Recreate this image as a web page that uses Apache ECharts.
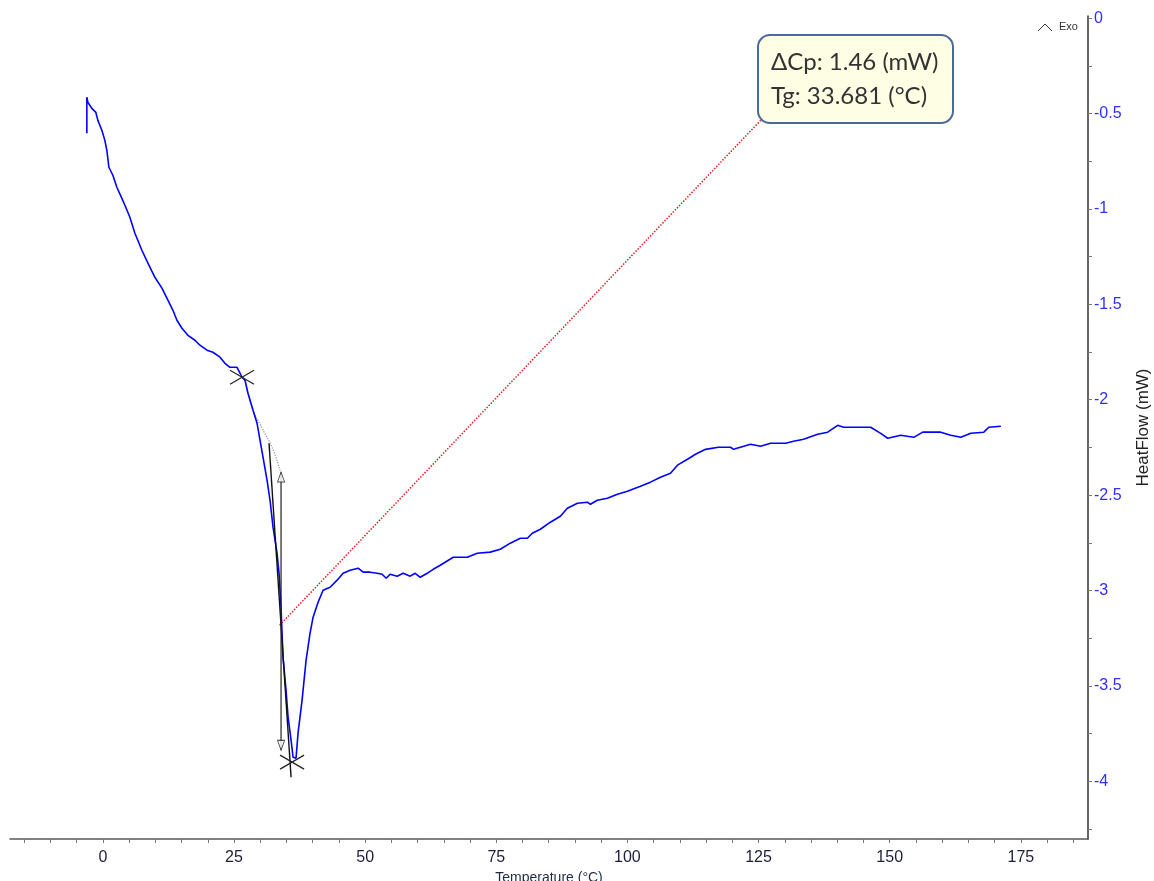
<!DOCTYPE html>
<html>
<head>
<meta charset="utf-8">
<script src="https://cdn.jsdelivr.net/npm/echarts@6/dist/echarts.min.js"></script>
<style>
html,body{margin:0;padding:0;background:#fff;overflow:hidden;}
#chart{width:1154px;height:881px;}
</style>
</head>
<body>
<div id="chart"></div>
<script>
// ---- Data ----
const temps = [
-3.05,-3.05,-2.86,-2.10,-1.34,-0.95,-0.19,0.38,0.76,1.15,1.91,2.67,3.63,4.20,5.15,6.11,7.44,8.59,9.92,11.26,
12.40,13.36,14.12,15.08,16.22,17.56,18.51,19.85,20.99,22.33,23.28,24.24,25.57,26.15,26.53,27.10,27.67,28.63,29.39,29.96,
30.53,31.30,31.87,32.44,33.21,33.59,33.97,34.16,34.35,34.92,35.31,35.88,36.26,36.83,37.21,37.98,38.74,39.50,40.08,41.03,
41.98,43.32,44.66,45.80,47.14,48.66,49.62,50.95,52.29,53.24,54.01,54.77,56.11,57.25,58.59,59.54,60.50,61.83,62.98,64.31,
66.79,69.47,71.37,73.85,75.76,77.67,79.58,80.92,81.87,83.40,85.31,87.21,88.55,90.46,92.37,92.94,94.27,96.18,98.09,100.00,
102.48,104.39,106.30,108.21,109.54,111.45,112.98,114.89,117.37,119.66,120.23,123.47,125.38,127.29,130.15,131.68,133.59,136.26,138.17,140.08,
141.22,146.37,148.28,149.62,152.10,154.58,156.30,157.82,159.73,161.64,163.55,165.46,167.94,168.89,171.18
];
const heatFlow = [
-0.603,-0.414,-0.440,-0.472,-0.493,-0.535,-0.587,-0.640,-0.692,-0.781,-0.823,-0.886,-0.944,-0.980,-1.043,-1.127,-1.216,-1.284,-1.358,-1.415,
-1.478,-1.531,-1.583,-1.625,-1.662,-1.688,-1.714,-1.740,-1.751,-1.777,-1.809,-1.830,-1.830,-1.861,-1.882,-1.898,-1.966,-2.055,-2.123,-2.212,
-2.301,-2.422,-2.527,-2.668,-2.805,-2.910,-3.088,-3.224,-3.350,-3.523,-3.664,-3.785,-3.874,-3.879,-3.748,-3.575,-3.366,-3.224,-3.140,-3.062,
-2.999,-2.983,-2.946,-2.910,-2.894,-2.883,-2.904,-2.904,-2.910,-2.915,-2.936,-2.915,-2.925,-2.910,-2.925,-2.910,-2.931,-2.910,-2.889,-2.868,
-2.826,-2.826,-2.805,-2.799,-2.784,-2.752,-2.726,-2.726,-2.700,-2.679,-2.642,-2.611,-2.569,-2.543,-2.537,-2.548,-2.527,-2.516,-2.495,-2.480,
-2.453,-2.432,-2.406,-2.385,-2.343,-2.312,-2.286,-2.260,-2.249,-2.249,-2.260,-2.233,-2.244,-2.228,-2.228,-2.218,-2.207,-2.181,-2.170,-2.134,
-2.144,-2.144,-2.176,-2.202,-2.186,-2.197,-2.170,-2.170,-2.170,-2.186,-2.197,-2.176,-2.170,-2.144,-2.139
];

// Glass-transition analysis annotations
const crossPoints = [[26.53, -1.882], [36.07, -3.900]];
const tangentLine = [[31.68, -2.228], [35.88, -3.979]];
const baselineExt = [[27.10, -1.898], [28.44, -2.039], [30.34, -2.149], [32.25, -2.249], [33.78, -2.370]];
const arrowLine = [[33.97, -2.380], [33.97, -3.837]];
const arrowHeadUp = [[33.97, -2.405]];
const arrowHeadDown = [[33.97, -3.812]];
const leaderLine = [[33.70, -3.182], [126.3, -0.509]];
const annotationText = ['ΔCp: 1.46 (mW)', 'Tg: 33.681 (°C)'];

// Axis ticks
const xLabelValues = [0, 25, 50, 75, 100, 125, 150, 175];
const xTickValues = [-15,-10,-5,0,5,10,15,20,25,30,35,40,45,50,55,60,65,70,75,80,85,90,95,100,105,110,115,120,125,130,135,140,145,150,155,160,165,170,175,180,185];
const yLabelValues = [0, -0.5, -1, -1.5, -2, -2.5, -3, -3.5, -4];
const yTickValues = [0,-0.25,-0.5,-0.75,-1,-1.25,-1.5,-1.75,-2,-2.25,-2.5,-2.75,-3,-3.25,-3.5,-3.75,-4,-4.25];

const chart = echarts.init(document.getElementById('chart'), null, {renderer: 'canvas'});
const curve = temps.map((t, i) => [t, heatFlow[i]]);

const option = {
  backgroundColor: '#ffffff',
  animation: false,
  textStyle: {fontFamily: 'Liberation Sans, Arial, sans-serif'},
  grid: {left: 10, right: 66, top: 16, bottom: 42, containLabel: false, outerBoundsMode: 'none'},
  xAxis: {
    type: 'value', min: -17.7, max: 187.8,
    name: 'Temperature (°C)', nameLocation: 'middle', nameGap: 28,
    nameTextStyle: {fontSize: 14, color: '#1c2a44'},
    axisLine: {show: true, onZero: false, lineStyle: {color: '#5a5a5a', width: 1.5}},
    axisTick: {show: true, customValues: xTickValues, length: 4, lineStyle: {color: '#777'}},
    axisLabel: {customValues: xLabelValues, fontSize: 16, color: '#1d1d3a', margin: 11},
    splitLine: {show: false}
  },
  yAxis: {
    type: 'value', position: 'right', min: -4.303, max: 0.012,
    name: 'HeatFlow (mW)', nameLocation: 'middle', nameGap: 47, nameRotate: 90,
    nameTextStyle: {fontSize: 17, color: '#222'},
    axisLine: {show: true, onZero: false, lineStyle: {color: '#333', width: 1.5}},
    axisTick: {show: true, customValues: yTickValues, length: 4, lineStyle: {color: '#777'}},
    axisLabel: {customValues: yLabelValues, fontSize: 16, color: '#2f2fff', margin: 6},
    splitLine: {show: false}
  },
  series: [
    {
      type: 'line', data: leaderLine, showSymbol: false, symbol: 'none', z: 2,
      lineStyle: {color: '#e02020', width: 1.5, type: 'dotted'}
    },
    {
      type: 'line', data: baselineExt, showSymbol: false, symbol: 'none', smooth: true, z: 2,
      lineStyle: {color: '#9a9a9a', width: 1.3, type: 'dotted'}
    },
    {
      type: 'line', data: curve, showSymbol: false, symbol: 'none', z: 3,
      lineStyle: {color: '#0000ff', width: 1.6}
    },
    {
      type: 'line', data: tangentLine, showSymbol: false, symbol: 'none', z: 4,
      lineStyle: {color: '#111', width: 1.4}
    },
    {
      type: 'line', data: arrowLine, showSymbol: false, symbol: 'none', z: 4,
      lineStyle: {color: '#222', width: 1.2}
    },
    {
      type: 'scatter', data: arrowHeadUp, symbol: 'triangle', symbolSize: [7, 10], z: 5,
      itemStyle: {color: '#fff', borderColor: '#222', borderWidth: 1}
    },
    {
      type: 'scatter', data: arrowHeadDown, symbol: 'triangle', symbolSize: [7, 10], symbolRotate: 180, z: 5,
      itemStyle: {color: '#fff', borderColor: '#222', borderWidth: 1}
    },
    {
      type: 'custom', data: crossPoints, z: 6,
      renderItem: function (params, api) {
        const p = api.coord([api.value(0), api.value(1)]);
        const w = 12, h = 7;
        const st = {stroke: '#222', lineWidth: 1.2};
        return {
          type: 'group',
          children: [
            {type: 'line', shape: {x1: p[0] - w, y1: p[1] - h, x2: p[0] + w, y2: p[1] + h}, style: st},
            {type: 'line', shape: {x1: p[0] - w, y1: p[1] + h, x2: p[0] + w, y2: p[1] - h}, style: st}
          ]
        };
      }
    }
  ],
  graphic: [
    {
      type: 'rect', z: 100, shape: {x: 758, y: 35, width: 195, height: 88, r: 12},
      style: {fill: '#fefee4', stroke: '#4a6a9c', lineWidth: 2}
    },
    {
      type: 'text', z: 101, x: 771, y: 62,
      style: {text: annotationText[0], fontSize: 24, fontFamily: 'Lato, Open Sans, sans-serif', fill: '#333', verticalAlign: 'middle'}
    },
    {
      type: 'text', z: 101, x: 771, y: 96,
      style: {text: annotationText[1], fontSize: 24, fontFamily: 'Lato, Open Sans, sans-serif', fill: '#333', verticalAlign: 'middle'}
    },
    {
      type: 'polyline', z: 100, shape: {points: [[1038, 31], [1045, 24], [1052, 31]]},
      style: {stroke: '#333', lineWidth: 1, fill: null}
    },
    {
      type: 'text', z: 100, x: 1059, y: 27,
      style: {text: 'Exo', fontSize: 11, fill: '#333', verticalAlign: 'middle', fontFamily: 'Liberation Sans, Arial, sans-serif'}
    }
  ]
};
chart.setOption(option);
</script>
</body>
</html>
